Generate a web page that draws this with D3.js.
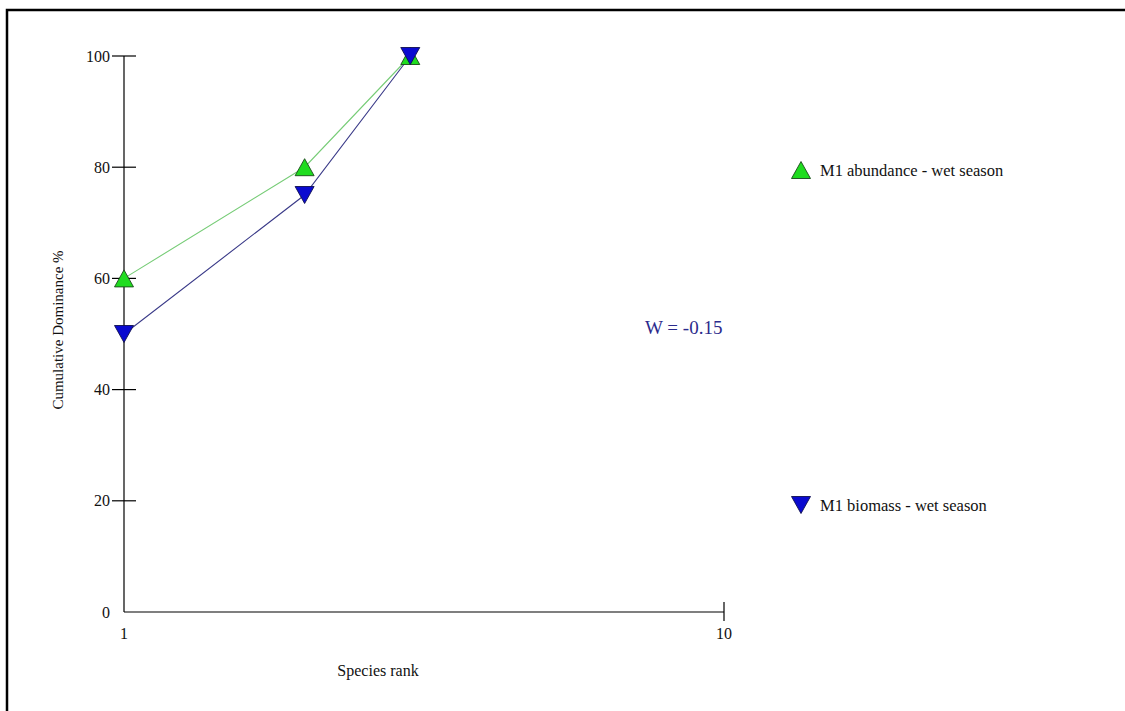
<!DOCTYPE html>
<html>
<head>
<meta charset="utf-8">
<script src="https://cdn.jsdelivr.net/npm/d3@7"></script>
<style>
  html, body { margin: 0; padding: 0; background: #fff; }
  svg { display: block; }
  text { font-family: "Liberation Serif", "Times New Roman", serif; }
</style>
</head>
<body>
<svg id="chart" width="1125" height="711"></svg>
<script>
// Cumulative dominance (k-dominance) curves, station M1, wet season
const ranks = [1, 2, 3];
const abundance = [60, 80, 100];
const biomass = [50, 75, 100];
const yTicks = [0, 20, 40, 60, 80, 100];
const xTicks = [1, 10];
const seriesNames = ["M1 abundance - wet season", "M1 biomass - wet season"];
const statLabel = "W = -0.15";

const svg = d3.select("#chart");

// outer frame
svg.append("rect")
  .attr("x", 7).attr("y", 10)
  .attr("width", 1140).attr("height", 720)
  .attr("fill", "#fff")
  .attr("stroke", "#000")
  .attr("stroke-width", 2.5);

const x = d3.scaleLog().domain([1, 10]).range([124, 724]);
const y = d3.scaleLinear().domain([0, 100]).range([612, 56]);

// y axis: line, crossing ticks, labels
const yAxis = svg.append("g");
yAxis.append("line")
  .attr("x1", x(1)).attr("x2", x(1))
  .attr("y1", y(100)).attr("y2", y(0))
  .attr("stroke", "#000").attr("stroke-width", 1.2);
yAxis.selectAll("line.tick")
  .data(yTicks.filter(d => d > 0))
  .join("line")
  .attr("class", "tick")
  .attr("x1", x(1) - 12).attr("x2", x(1) + 12)
  .attr("y1", d => y(d)).attr("y2", d => y(d))
  .attr("stroke", "#000").attr("stroke-width", 1.2);
yAxis.selectAll("text")
  .data(yTicks)
  .join("text")
  .attr("x", x(1) - 14)
  .attr("y", d => y(d))
  .attr("dy", "0.35em")
  .attr("text-anchor", "end")
  .attr("font-size", 16)
  .attr("fill", "#111")
  .text(d => d);

// x axis: line, end tick, labels
const xAxis = svg.append("g");
xAxis.append("line")
  .attr("x1", x(1)).attr("x2", x(10))
  .attr("y1", y(0)).attr("y2", y(0))
  .attr("stroke", "#000").attr("stroke-width", 1.2);
xAxis.append("line")
  .attr("x1", x(10)).attr("x2", x(10))
  .attr("y1", y(0) - 10).attr("y2", y(0) + 9)
  .attr("stroke", "#000").attr("stroke-width", 1.2);
xAxis.selectAll("text")
  .data(xTicks)
  .join("text")
  .attr("x", d => x(d))
  .attr("y", y(0) + 27)
  .attr("text-anchor", "middle")
  .attr("font-size", 16)
  .attr("fill", "#111")
  .text(d => d);

// axis titles
svg.append("text")
  .attr("x", 378).attr("y", 676)
  .attr("text-anchor", "middle")
  .attr("font-size", 16)
  .attr("fill", "#111")
  .text("Species rank");
svg.append("text")
  .attr("transform", "translate(63,330) rotate(-90)")
  .attr("text-anchor", "middle")
  .attr("font-size", 15)
  .attr("fill", "#111")
  .text("Cumulative Dominance %");

// triangle marker path centred on its bounding box
function tri(up, w, h) {
  const p = d3.path();
  if (up) {
    p.moveTo(0, -h / 2); p.lineTo(w / 2, h / 2); p.lineTo(-w / 2, h / 2);
  } else {
    p.moveTo(0, h / 2); p.lineTo(w / 2, -h / 2); p.lineTo(-w / 2, -h / 2);
  }
  p.closePath();
  return p.toString();
}

const series = [
  { name: seriesNames[0], values: abundance, up: true, line: "#77cc77", fill: "#1fdc1f", stroke: "#1a4a1a", legendY: 170 },
  { name: seriesNames[1], values: biomass, up: false, line: "#3a3a88", fill: "#0a0ad0", stroke: "#101050", legendY: 505 }
];

const lineGen = d3.line().x(d => x(d[0])).y(d => y(d[1]));

// lines first, then markers on top
series.forEach(s => {
  svg.append("path")
    .datum(ranks.map((r, i) => [r, s.values[i]]))
    .attr("d", lineGen)
    .attr("fill", "none")
    .attr("stroke", s.line)
    .attr("stroke-width", 1.1);
});
series.forEach(s => {
  svg.append("g")
    .selectAll("path")
    .data(ranks.map((r, i) => [r, s.values[i]]))
    .join("path")
    .attr("transform", d => `translate(${x(d[0])},${y(d[1])})`)
    .attr("d", tri(s.up, 19, 17))
    .attr("fill", s.fill)
    .attr("stroke", s.stroke)
    .attr("stroke-width", 0.9);
});

// legend
series.forEach(s => {
  svg.append("path")
    .attr("transform", `translate(801,${s.legendY})`)
    .attr("d", tri(s.up, 19, 17))
    .attr("fill", s.fill)
    .attr("stroke", s.stroke)
    .attr("stroke-width", 0.9);
  svg.append("text")
    .attr("x", 820).attr("y", s.legendY)
    .attr("dy", "0.35em")
    .attr("font-size", 16.5)
    .attr("fill", "#111")
    .text(s.name);
});

// statistic label
svg.append("text")
  .attr("x", 645).attr("y", 327)
  .attr("dy", "0.35em")
  .attr("font-size", 19)
  .attr("fill", "#2b2b8c")
  .text(statLabel);
</script>
</body>
</html>
